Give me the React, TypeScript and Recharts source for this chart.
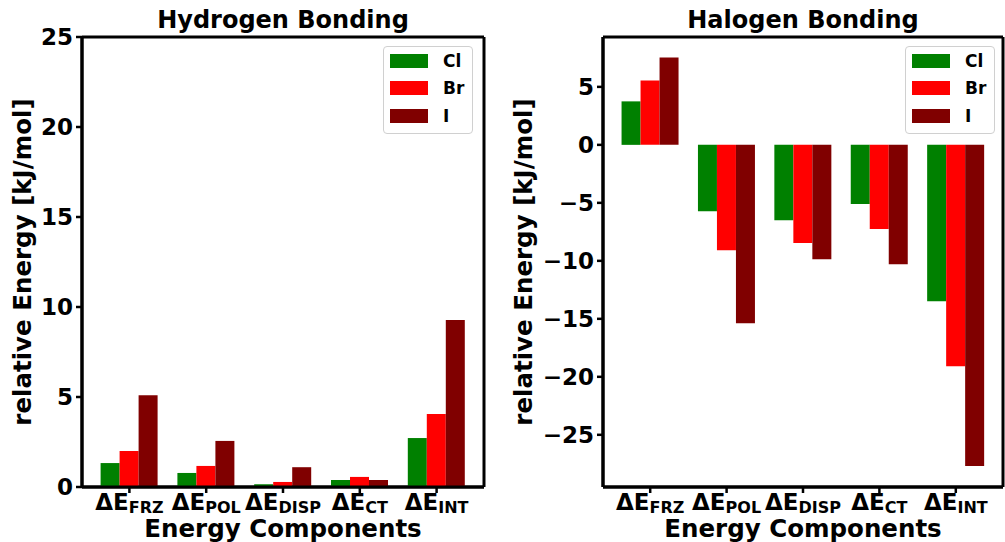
import { BarChart, Bar, XAxis, YAxis, Legend, CartesianGrid } from "recharts";

const categories = ["FRZ", "POL", "DISP", "CT", "INT"];
const seriesNames = ["Cl", "Br", "I"];
const seriesColors = ["#008000", "#ff0000", "#800000"];

// hydrogen bonding, kJ/mol
const hbCl = [1.33, 0.78, 0.15, 0.39, 2.72];
const hbBr = [2.0, 1.17, 0.28, 0.56, 4.06];
const hbI = [5.1, 2.56, 1.1, 0.39, 9.28];
const hbTicks = [0, 5, 10, 15, 20, 25];

// halogen bonding, kJ/mol
const xbCl = [3.75, -5.73, -6.51, -5.1, -13.49];
const xbBr = [5.56, -9.09, -8.47, -7.26, -19.09];
const xbI = [7.54, -15.39, -9.87, -10.3, -27.69];
const xbTicks = [5, 0, -5, -10, -15, -20, -25];

const FONT = "'DejaVu Sans', sans-serif";

const toRows = (cl: number[], br: number[], i: number[]) =>
  categories.map((name, k) => ({ name, Cl: cl[k], Br: br[k], I: i[k] }));

function XTick({ x, y, payload }: any) {
  return (
    <text x={x} y={y + 15} textAnchor="middle" fontFamily={FONT} fontWeight="bold" fill="#000">
      <tspan fontSize={23}>ΔE</tspan>
      <tspan fontSize={16} dy={3}>{payload.value}</tspan>
    </text>
  );
}

function YTitle({ viewBox, text, cx }: any) {
  const cy = viewBox.y + viewBox.height / 2;
  return (
    <text x={cx} y={cy} transform={`rotate(-90, ${cx}, ${cy})`} textAnchor="middle"
      dominantBaseline="central" fontFamily={FONT} fontWeight="bold" fontSize={24.5} fill="#000">
      {text}
    </text>
  );
}

function BottomTitle({ viewBox, text }: any) {
  return (
    <text x={viewBox.x + viewBox.width / 2} y={viewBox.y + 50} textAnchor="middle"
      fontFamily={FONT} fontWeight="bold" fontSize={24.5} fill="#000">
      {text}
    </text>
  );
}

function LegendBox({ payload }: any) {
  const items = [...(payload || [])].sort(
    (a: any, b: any) => seriesNames.indexOf(a.value) - seriesNames.indexOf(b.value)
  );
  return (
    <div style={{ border: "1px solid #d0d0d0", borderRadius: 4, background: "rgba(255,255,255,0.8)",
      padding: "0 8px 3px 6px", fontFamily: FONT }}>
      {items.map((p: any) => (
        <div key={p.value} style={{ display: "flex", alignItems: "center", height: 27.5 }}>
          <span style={{ display: "inline-block", width: 38, height: 14, background: p.color }} />
          <span style={{ marginLeft: 15, fontWeight: "bold", fontSize: 17, color: "#000" }}>{p.value}</span>
        </div>
      ))}
    </div>
  );
}

const tickStyle = { fontFamily: FONT, fontWeight: "bold", fontSize: 23, fill: "#000" };
const lineStyle = { stroke: "#000", strokeWidth: 3 };
const tickLineStyle = { stroke: "#000", strokeWidth: 2.5 };

// grid lines only on the plot edges -> the closed box around the axes
const edgeRows = ({ offset }: any) => [offset.top, offset.top + offset.height];
const edgeCols = ({ offset }: any) => [offset.left, offset.left + offset.width];

function Panel({ title, rows, domain, ticks, yWidth, width, marginRight, labelX, legendLeft }: any) {
  const plotLeft = yWidth;
  const plotWidth = width - yWidth - marginRight;
  return (
    <div style={{ position: "relative", width, height: 542 }}>
      <div style={{ position: "absolute", left: plotLeft, width: plotWidth, top: 6, textAlign: "center",
        fontFamily: FONT, fontWeight: "bold", fontSize: 24, lineHeight: "28px", color: "#000" }}>
        {title}
      </div>
      <BarChart width={width} height={542} data={rows} barGap={0} barCategoryGap="12.5%"
        margin={{ top: 37, right: marginRight, bottom: 0, left: 0 }}>
        <CartesianGrid stroke="#000" strokeWidth={3} strokeDasharray="0"
          horizontalCoordinatesGenerator={edgeRows} verticalCoordinatesGenerator={edgeCols} />
        <XAxis dataKey="name" height={55} padding={{ left: 9, right: 9 }} tickSize={6} tickMargin={2}
          axisLine={lineStyle} tickLine={tickLineStyle} tick={<XTick />} interval={0}
          label={<BottomTitle text="Energy Components" />} />
        <YAxis type="number" domain={domain} ticks={ticks} allowDataOverflow width={yWidth}
          tickSize={6} tickMargin={3} axisLine={lineStyle} tickLine={tickLineStyle} tick={tickStyle}
          tickFormatter={(v: number) => String(v).replace("-", "\u2212")} interval={0}
          label={<YTitle text="relative Energy [kJ/mol]" cx={labelX} />} />
        <Legend layout="horizontal" align="center" verticalAlign="middle" content={<LegendBox />}
          wrapperStyle={{ left: legendLeft, top: 46, width: "auto", height: "auto" }} />
        {seriesNames.map((s, k) => (
          <Bar key={s} dataKey={s} name={s} fill={seriesColors[k]} isAnimationActive={false} />
        ))}
      </BarChart>
    </div>
  );
}

export default function App() {
  return (
    <div style={{ position: "absolute", left: 0, top: 0, width: 1005, height: 542, background: "#fff" }}>
      <div style={{ position: "absolute", left: 0, top: 0 }}>
        <Panel title="Hydrogen Bonding" rows={toRows(hbCl, hbBr, hbI)} domain={[0, 25]} ticks={hbTicks}
          yWidth={82} width={500} marginRight={16} labelX={22} legendLeft={383} />
      </div>
      <div style={{ position: "absolute", left: 500, top: 0 }}>
        <Panel title="Halogen Bonding" rows={toRows(xbCl, xbBr, xbI)} domain={[-29.5, 9.3]} ticks={xbTicks}
          yWidth={103} width={505} marginRight={2} labelX={23} legendLeft={405} />
      </div>
    </div>
  );
}
